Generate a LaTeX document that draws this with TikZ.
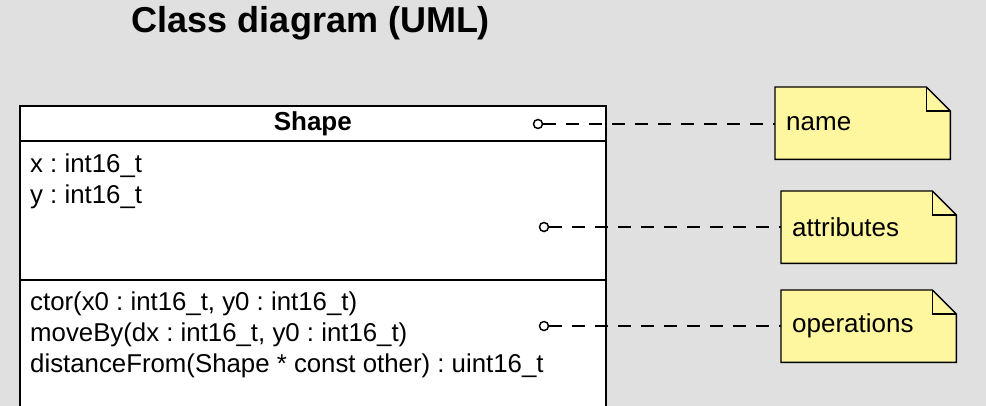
\documentclass[tikz,border=0pt]{standalone}
\usepackage{fontspec}
\setmainfont{Liberation Sans}
\frenchspacing
\definecolor{bggray}{RGB}{224,224,224}
\definecolor{noteyellow}{RGB}{255,246,160}
\begin{document}
\begin{tikzpicture}[x=1pt,y=-1pt,
  compart/.style={draw=black, line width=1.6pt, fill=white, anchor=north west, minimum width=586pt, inner sep=0pt},
  membertext/.style={anchor=west, font=\fontsize{25.8}{30}\selectfont, inner sep=0pt},
  notebox/.style={anchor=north west, minimum width=175pt, minimum height=72pt, text width=153pt, inner xsep=11pt, inner ysep=0pt, align=left, font=\fontsize{26}{30}\selectfont},
  notedraw/.style={draw=black, line width=1.4pt, fill=noteyellow},
  pin/.style={circle, draw=black, line width=1.5pt, fill=white, minimum size=9pt, inner sep=0pt},
  leader/.style={line width=1.5pt, dash pattern=on 13pt off 10pt}]
\fill[bggray] (0,0) rectangle (986,406);
\useasboundingbox (0,0) rectangle (986,406);
\clip (0,0) rectangle (986,406);

\node[anchor=center, font=\bfseries\fontsize{36}{40}\selectfont, inner sep=0pt] (title) at (311,23) {Class diagram (UML)};

% class box
\node[compart, minimum height=35pt, font=\bfseries\fontsize{26}{30}\selectfont] (hdr) at (19,105) {Shape};
\node[compart, minimum height=139pt] (attrs) at (19,140) {};
\node[compart, minimum height=150pt] (ops) at (19,279) {};

\node[membertext] (ax) at (30,166) {x : int16\_t};
\node[membertext] (ay) at (30,197) {y : int16\_t};
\node[membertext] (o1) at (30,304) {ctor(x0 : int16\_t, y0 : int16\_t)};
\node[membertext] (o2) at (30,335) {moveBy(dx : int16\_t, y0 : int16\_t)};
\node[membertext] (o3) at (30,366) {distanceFrom(Shape * const other) : uint16\_t};

% notes
\node[notebox] (nName) at (775,87) {name};
\node[notebox] (nAttr) at (781,191) {attributes};
\node[notebox] (nOps) at (781,290) {operations};
\foreach \n in {nName,nAttr,nOps}{
  \draw[notedraw] (\n.north west) -- ([xshift=-24pt]\n.north east) -- ([yshift=-24pt]\n.north east) -- (\n.south east) -- (\n.south west) -- cycle;
  \draw[line width=1.4pt, line join=miter] ([xshift=-24pt]\n.north east) |- ([yshift=-24pt]\n.north east);
}
\node[notebox] at (775,87) {name};
\node[notebox] at (781,191) {attributes};
\node[notebox] at (781,290) {operations};

% pins and leaders
\node[pin] (pName) at (538,124) {};
\node[pin] (pAttr) at (544,227) {};
\node[pin] (pOps) at (544,326) {};
\draw[leader] (pName) -- (pName -| nName.west);
\draw[leader] (pAttr) -- (pAttr -| nAttr.west);
\draw[leader] (pOps) -- (pOps -| nOps.west);
\end{tikzpicture}
\end{document}
